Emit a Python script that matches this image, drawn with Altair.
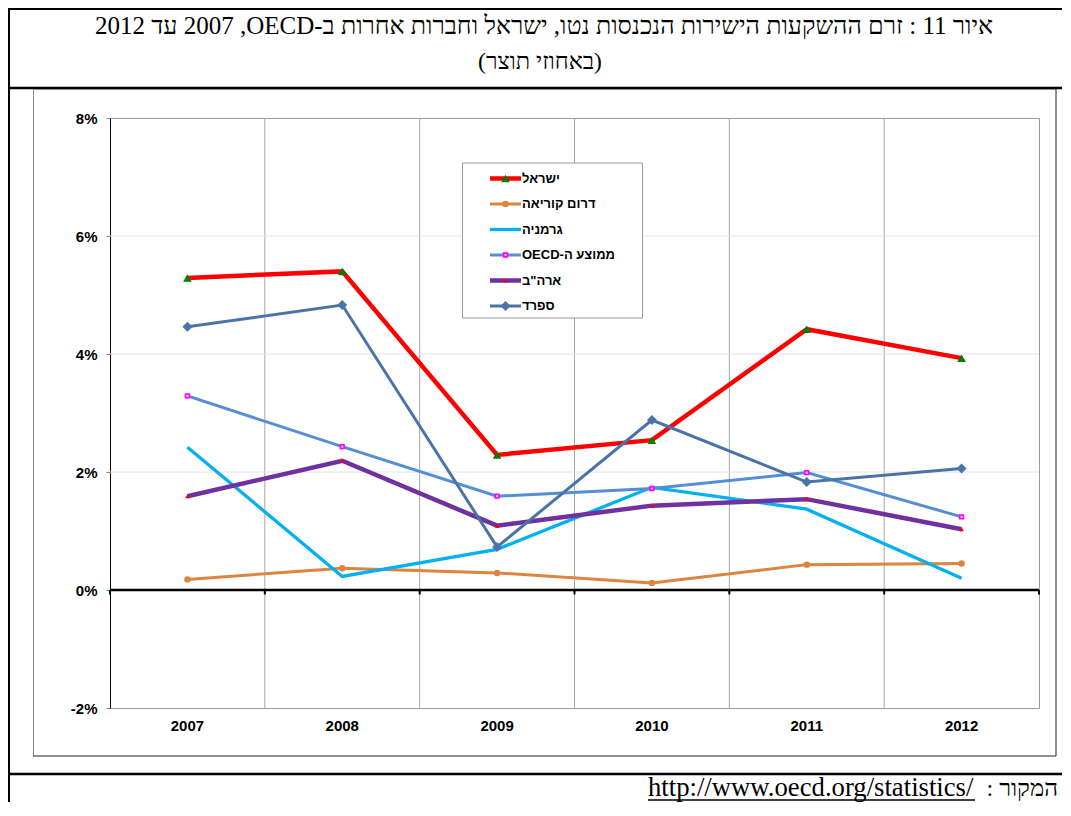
import altair as alt
import pandas as pd

# ---------------- data ----------------
years = ["2007", "2008", "2009", "2010", "2011", "2012"]
series_names = ["ישראל", "דרום קוריאה", "גרמניה", "ממוצע ה-OECD", "ארה\"ב", "ספרד"]
israel = [5.29, 5.40, 2.29, 2.54, 4.42, 3.93]
korea = [0.18, 0.37, 0.29, 0.12, 0.43, 0.45]
germany = [2.42, 0.23, 0.69, 1.74, 1.37, 0.20]
oecd = [3.29, 2.43, 1.59, 1.72, 1.99, 1.24]
usa = [1.59, 2.19, 1.09, 1.43, 1.54, 1.03]
spain = [4.46, 4.83, 0.73, 2.88, 1.83, 2.06]
y_ticks = [-2, 0, 2, 4, 6, 8]
h_grid = [2, 4, 6]

title_text = "איור 11 : זרם ההשקעות הישירות הנכנסות נטו, ישראל וחברות אחרות ב-OECD\u200f, 2007 עד 2012"
subtitle_text = "(באחוזי תוצר)"
source_label = "המקור :"
source_url = "http://www.oecd.org/statistics/"

RLE, PDF = "\u202b", "\u202c"

values_all = [israel, korea, germany, oecd, usa, spain]

# ---------------- styles ----------------
styles = [
    dict(color="#FF0000", width=4.5, shape="triangle-up", mcolor="#008000", msize=75, filled=True),
    dict(color="#DC853E", width=3, shape="circle", mcolor="#DC853E", msize=42, filled=True),
    dict(color="#00B0F0", width=3.3, shape=None),
    dict(color="#558ED5", width=3, shape="square", mcolor="#FF00FF", msize=14, filled=False),
    dict(color="#7030A0", width=4.5, shape="triangle-up", mcolor="#FF0000", msize=22, filled=True),
    dict(color="#4A74A8", width=3, shape="diamond", mcolor="#4A74A8", msize=100, filled=True),
]

W, H = 929, 590
PL, PT = 102, 110
SVG_W, SVG_H = 1054, 794
PR, PB = SVG_W - PL - W, SVG_H - PT - H

SANS = "Liberation Sans"
SERIF = "Liberation Serif"

xscale = alt.Scale(type="band", paddingInner=0, paddingOuter=0, domain=years)
yscale = alt.Scale(domain=[-2, 8], nice=False, zero=False)
xaxis = alt.Axis(title=None, labelAngle=0, labelFont=SANS, labelFontWeight="bold",
                 labelFontSize=15, labelColor="black", ticks=False, domain=False,
                 grid=False, labelPadding=10)
yaxis = alt.Axis(title=None, values=y_ticks, labelExpr="datum.value + '%'",
                 labelFont=SANS, labelFontWeight="bold", labelFontSize=15,
                 labelColor="black", tickSize=4, tickColor="#888888",
                 domainColor="black", domainWidth=1, grid=False, labelPadding=9)

def X(field="year:O", band=0.5):
    return alt.X(field, scale=xscale, axis=xaxis, bandPosition=band)

def Y(field="value:Q"):
    return alt.Y(field, scale=yscale, axis=yaxis)

one = pd.DataFrame({"d": [0]})

layers = []

# vertical gridlines at band boundaries
vg = pd.DataFrame({"year": years[1:]})
layers.append(alt.Chart(vg).mark_rule(color="#A6A6A6", strokeWidth=1).encode(x=X(band=0)))

# horizontal light gridlines
hg = pd.DataFrame({"value": h_grid})
layers.append(alt.Chart(hg).mark_rule(color="#E2E2F8", strokeWidth=1).encode(y=Y()))

# zero line
layers.append(alt.Chart(one).mark_rule(color="black", strokeWidth=2.6).encode(
    y=alt.Y(datum=0, scale=yscale, axis=yaxis)))

# ticks on zero line
tk = pd.DataFrame({"year": years})
layers.append(alt.Chart(tk).mark_rule(color="black", strokeWidth=2).encode(
    x=X(band=0), y=alt.Y(datum=0, scale=yscale, axis=yaxis), y2=alt.Y2(datum=-0.075)))
layers.append(alt.Chart(one).mark_rule(color="black", strokeWidth=2).encode(
    x=alt.value(W), y=alt.Y(datum=0, scale=yscale, axis=yaxis), y2=alt.Y2(datum=-0.075)))

# series
for name, vals, st in zip(series_names, values_all, styles):
    df = pd.DataFrame({"year": years, "value": vals, "series": name})
    base = alt.Chart(df)
    layers.append(base.mark_line(color=st["color"], strokeWidth=st["width"],
                                 strokeJoin="miter", strokeCap="butt").encode(x=X(), y=Y()))
    if st["shape"]:
        if st["filled"]:
            pm = base.mark_point(shape=st["shape"], size=st["msize"], filled=True,
                                 color=st["mcolor"], opacity=1)
        else:
            pm = base.mark_point(shape=st["shape"], size=st["msize"], filled=False,
                                 stroke=st["mcolor"], strokeWidth=1.6, fill="#F0C0F0",
                                 opacity=1)
        layers.append(pm.encode(x=X(), y=Y()))

# ---------------- custom legend ----------------
LX0, LX1 = 352.5, 532.5
LY0, LY1 = 45, 200
layers.append(alt.Chart(one).mark_rect(fill="white", stroke="#9A9A9A", strokeWidth=1).encode(
    x=alt.value(LX0), x2=alt.value(LX1), y=alt.value(LY0), y2=alt.value(LY1)))

leg = pd.DataFrame({"name": series_names, "rank": list(range(len(series_names)))})
leg_base = alt.Chart(leg).transform_calculate(ly="60.5 + datum.rank * 25.5")
for name, st in zip(series_names, styles):
    b = leg_base.transform_filter(alt.datum.name == name)
    layers.append(b.mark_rule(color=st["color"], strokeWidth=st["width"]).encode(
        x=alt.value(380), x2=alt.value(411), y=alt.Y("ly:Q", scale=None, axis=None)))
    if st["shape"]:
        if st["filled"]:
            pm = b.mark_point(shape=st["shape"], size=st["msize"], filled=True,
                              color=st["mcolor"], opacity=1)
        else:
            pm = b.mark_point(shape=st["shape"], size=st["msize"], filled=False,
                              stroke=st["mcolor"], strokeWidth=1.6, fill="#F0C0F0", opacity=1)
        layers.append(pm.encode(x=alt.value(395.5), y=alt.Y("ly:Q", scale=None, axis=None)))
leg_text = leg_base.transform_calculate(lab=f"'{RLE}' + datum.name + '{PDF}'")
layers.append(leg_text.mark_text(align="left", baseline="middle", font=SANS, fontWeight="bold",
                                 fontSize=13, color="black").encode(
    x=alt.value(412), y=alt.Y("ly:Q", scale=None, axis=None), text="lab:N"))

# ---------------- frame ----------------
def rule(x1, x2, y1, y2, color="black", w=1):
    return alt.Chart(one).mark_rule(color=color, strokeWidth=w).encode(
        x=alt.value(x1), x2=alt.value(x2), y=alt.value(y1), y2=alt.value(y2))

ox, oy = 110, 118
R = SVG_W - PL  # right edge in plot coordinates
B = SVG_H - PT
layers += [
    rule(-PL, R, 9 - oy, 9 - oy, w=2),                 # top border
    rule(9 - ox, 9 - ox, -PT, B, w=2),                 # left outer border
    rule(-PL, R, 88 - oy, 88 - oy, w=2.5),             # title separator
    rule(-PL, R, 774 - oy, 774 - oy, w=2.5),           # bottom separator
    rule(33 - ox, 1056 - ox, 89.5 - oy, 89.5 - oy, color="#8C8C8C"),   # chart frame top
    rule(33.5 - ox, 33.5 - ox, 89 - oy, 756 - oy, color="#8C8C8C"),    # chart frame left
    rule(33 - ox, 1056 - ox, 756 - oy, 756 - oy, color="#222222"),     # chart frame bottom
    rule(1056 - ox, 1056 - ox, 89 - oy, 756 - oy, color="#222222"),    # chart frame right
]

def text(t, x, y, size, font=SERIF, align="center", weight="normal"):
    return alt.Chart(one).mark_text(text=t, font=font, fontSize=size, align=align,
                                    baseline="middle", fontWeight=weight, color="black").encode(
        x=alt.value(x), y=alt.value(y))

layers.append(text(RLE + title_text + PDF, 544 - ox, 26 - oy, 25))
layers.append(text(RLE + subtitle_text + PDF, 540 - ox, 62 - oy, 23.5))

url_x0 = 648 - ox
layers.append(alt.Chart(one).mark_text(text=source_url, font=SERIF, fontSize=26.7, align="left",
                                       baseline="alphabetic", color="black").encode(
    x=alt.value(url_x0), y=alt.value(796 - oy)))
layers.append(alt.Chart(one).mark_text(text=RLE + source_label + PDF, font=SERIF, fontSize=24,
                                       align="right", baseline="alphabetic", color="black").encode(
    x=alt.value(1058 - ox), y=alt.value(796 - oy)))
layers.append(rule(url_x0, 975 - ox, 800 - oy, 800 - oy, w=1.3))

chart = alt.layer(*layers).properties(
    width=W, height=H,
    padding={"left": PL, "top": PT, "right": PR, "bottom": PB},
    autosize=alt.AutoSizeParams(type="none"),
    background="white",
).configure_view(stroke="#9A9A9A", strokeWidth=1)

chart.save("out.html", embed_options={"renderer": "svg", "actions": False})
